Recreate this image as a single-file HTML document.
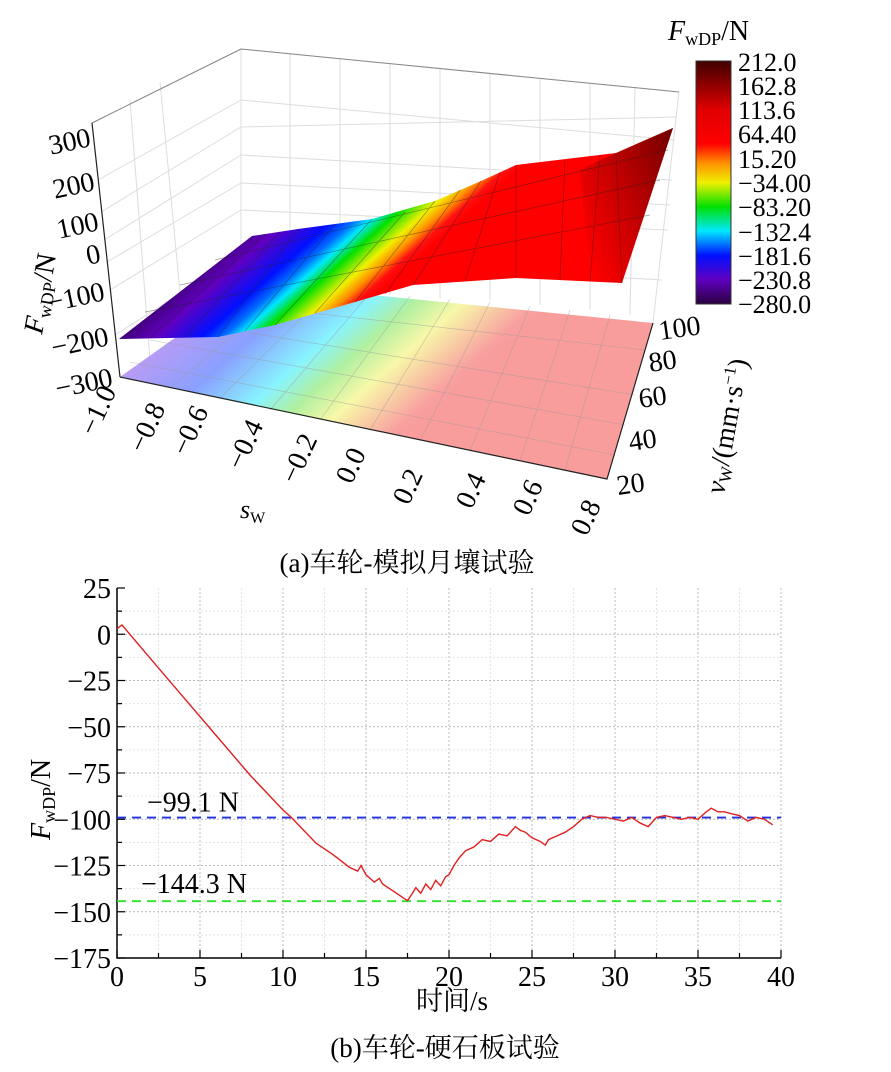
<!DOCTYPE html>
<html><head><meta charset="utf-8">
<style>
body{margin:0;background:#fff;width:891px;height:1072px;overflow:hidden;}
svg{position:absolute;left:0;top:0;}
text, tspan{font-family:"Liberation Serif","Times New Roman",Times,"DejaVu Serif","Noto Serif CJK SC",serif;}
</style></head>
<body>
<svg width="891" height="1072" viewBox="0 0 891 1072">
<defs>
<linearGradient id="surfG" gradientUnits="userSpaceOnUse" x1="219" y1="247" x2="312" y2="352">
<stop offset="0" stop-color="#3c0070"/><stop offset="0.18" stop-color="#6000c0"/><stop offset="0.4" stop-color="#0010ff"/>
<stop offset="0.5" stop-color="#0070ff"/><stop offset="0.57" stop-color="#00e8ff"/><stop offset="0.66" stop-color="#00e000"/>
<stop offset="0.79" stop-color="#f0f000"/><stop offset="0.87" stop-color="#ff9000"/><stop offset="0.94" stop-color="#ff1010"/><stop offset="1" stop-color="#ff0000"/>
</linearGradient>
<linearGradient id="floorG" gradientUnits="userSpaceOnUse" x1="215" y1="269" x2="383" y2="458">
<stop offset="0" stop-color="#c89af0"/><stop offset="0.3" stop-color="#8aa0ff"/><stop offset="0.5" stop-color="#88f4ff"/>
<stop offset="0.62" stop-color="#b0f0a0"/><stop offset="0.75" stop-color="#f8f8a8"/><stop offset="0.95" stop-color="#f8a0a0"/><stop offset="1" stop-color="#f89c9c"/>
</linearGradient>
<linearGradient id="darkG" gradientUnits="userSpaceOnUse" x1="560" y1="200" x2="680" y2="150">
<stop offset="0" stop-color="#800000" stop-opacity="0"/><stop offset="1" stop-color="#600000" stop-opacity="0.9"/>
</linearGradient>
<linearGradient id="cbarG" x1="0" y1="1" x2="0" y2="0">
<stop offset="0" stop-color="#2a0040"/><stop offset="0.1" stop-color="#6000c0"/><stop offset="0.2" stop-color="#0010ff"/>
<stop offset="0.3" stop-color="#00e8ff"/><stop offset="0.4" stop-color="#00e000"/><stop offset="0.5" stop-color="#f0f000"/>
<stop offset="0.58" stop-color="#ff9000"/><stop offset="0.66" stop-color="#ff0000"/><stop offset="0.8" stop-color="#e00000"/><stop offset="1" stop-color="#400000"/>
</linearGradient>
</defs>

<g>
<g stroke="#ddd" stroke-width="1" fill="none">
<path d="M241 49 L679 92 M241 49 L241 285 M679 92 L653 323 M241 49 L92 123 M92 123 L120 377 M120 377 L607 479 L653 323"/>
<path d="M92 123 L241 49 M98 180 L241 100 M104 240 L241 155 M110 290 L241 210 M115 335 L241 255 M101 212 L241 127 M107 262 L241 183"/>
<path d="M241 100 L675 140 M241 155 L672 180 M241 210 L668 230 M241 255 L662 280 M241 127 L677 117 M241 183 L670 205"/>
<path d="M160 82 L185 345 M130 100 L150 360 M290 54 L290 290 M340 59 L340 292 M390 64 L390 295 M440 69 L440 298 M490 74 L490 300 M540 79 L540 305 M590 84 L590 310 M635 88 L630 315"/>
</g>
<path d="M92 123 L241 49 L679 92" stroke="#888" fill="none"/>
<polygon points="120,377 607,479 653,323 252,283" fill="url(#floorG)"/>
<g stroke="#999" stroke-width="0.6" opacity="0.6" fill="none">
<path d="M170 388 L290 287 M220 398 L330 290 M270 410 L370 293 M320 420 L410 296 M370 430 L450 299 M420 441 L490 302 M470 451 L530 306 M520 461 L570 310 M565 470 L610 315"/>
<path d="M130 362 L615 455 M150 340 L625 425 M170 320 L635 395 M195 300 L645 350"/>
</g>
<polygon points="119,339 218,337 275,325 355,302 413,285 516,278 622,283 673,128 616,153 516,165 481,181 435,201 372,219 298,229 252,236" fill="url(#surfG)"/>
<polygon points="590,280 622,283 673,128 616,153 580,170" fill="url(#darkG)"/>
<g stroke="#222" stroke-width="0.7" opacity="0.45" fill="none">
<path d="M150 338 L265 234 M185 337 L280 232 M218 337 L298 229 M245 331 L335 224 M275 325 L372 219 M315 313 L405 212 M355 302 L435 201 M385 294 L460 190 M413 285 L481 181 M465 281 L500 172 M516 278 L516 165 M560 280 L565 160 M590 281 L600 155 M622 283 L616 153"/>
<path d="M145 312 L650 215 M180 285 L660 180 M215 260 L668 150"/>
</g>
<path d="M120 377 L607 479 L653 323" stroke="#222" stroke-width="1.2" fill="none"/>
<path d="M92 123 L120 377" stroke="#222" stroke-width="1.2" fill="none"/>
<g font-size="28" fill="#000" text-anchor="end">
<text x="92" y="146" transform="rotate(-12 92 146)">300</text>
<text x="96" y="190" transform="rotate(-12 96 190)">200</text>
<text x="100" y="230" transform="rotate(-12 100 230)">100</text>
<text x="102" y="262" transform="rotate(-12 102 262)">0</text>
<text x="106" y="300" transform="rotate(-12 106 300)">−100</text>
<text x="110" y="345" transform="rotate(-12 110 345)">−200</text>
<text x="114" y="386" transform="rotate(-12 114 386)">−300</text>
</g>
<text font-size="28" transform="translate(42 335) rotate(-80)"><tspan font-style="italic">F</tspan><tspan font-size="18" dy="5">wDP</tspan><tspan dy="-5">/N</tspan></text>
<g font-size="28" fill="#000" text-anchor="middle">
<text x="97" y="420" transform="rotate(-65 97 410)">−1.0</text>
<text x="146" y="437" transform="rotate(-65 146 427)">−0.8</text>
<text x="189" y="440" transform="rotate(-65 189 430)">−0.6</text>
<text x="244" y="454" transform="rotate(-65 244 444)">−0.4</text>
<text x="298" y="468" transform="rotate(-65 298 458)">−0.2</text>
<text x="350" y="475" transform="rotate(-65 350 465)">0.0</text>
<text x="407" y="496" transform="rotate(-65 407 486)">0.2</text>
<text x="470" y="500" transform="rotate(-65 470 490)">0.4</text>
<text x="527" y="507" transform="rotate(-65 527 497)">0.6</text>
<text x="585" y="527" transform="rotate(-65 585 517)">0.8</text>
</g>
<text x="240" y="518" font-size="26" font-style="italic">s<tspan font-size="16" font-style="normal" dy="5">W</tspan></text>
<g font-size="28" fill="#000">
<text x="660" y="340" transform="rotate(-8 660 340)">100</text>
<text x="650" y="372" transform="rotate(-8 650 372)">80</text>
<text x="640" y="408" transform="rotate(-8 640 408)">60</text>
<text x="630" y="451" transform="rotate(-8 630 451)">40</text>
<text x="618" y="495" transform="rotate(-8 618 495)">20</text>
</g>
<text font-size="28" transform="translate(724 495) rotate(-80)"><tspan font-style="italic">v</tspan><tspan font-size="17" dy="4">W</tspan><tspan dy="-4">/(mm·s</tspan><tspan font-size="17" dy="-10">−1</tspan><tspan dy="10">)</tspan></text>
<g>
<text x="668" y="40" font-size="28"><tspan font-style="italic">F</tspan><tspan font-size="18" dy="5">wDP</tspan><tspan dy="-5">/N</tspan></text>
<rect x="696" y="61" width="35" height="243" fill="url(#cbarG)" stroke="#333" stroke-width="1"/>
<g font-size="26">
<text x="738" y="71">212.0</text><text x="738" y="95">162.8</text><text x="738" y="119">113.6</text>
<text x="738" y="143">64.40</text><text x="738" y="168">15.20</text><text x="738" y="192">−34.00</text>
<text x="738" y="216">−83.20</text><text x="738" y="241">−132.4</text><text x="738" y="265">−181.6</text>
<text x="738" y="289">−230.8</text><text x="738" y="313">−280.0</text>
</g>
</g>
</g>
<text x="407" y="572" font-size="27" text-anchor="middle">(a)车轮-模拟月壤试验</text>

<g id="chart2"></g>
<text x="452" y="1010" font-size="27" text-anchor="middle">时间/s</text>
<text font-size="28" transform="translate(50 840) rotate(-90)"><tspan font-style="italic">F</tspan><tspan font-size="18" dy="5">wDP</tspan><tspan dy="-5">/N</tspan></text>
<text x="445" y="1057" font-size="27" text-anchor="middle">(b)车轮-硬石板试验</text>
</svg>
<script>
const xTicks=[0,5,10,15,20,25,30,35,40];
const yTicks=[25,0,-25,-50,-75,-100,-125,-150,-175];
const timeS=[0,0.3,2,4,6,8,10,10.5,12,13,14,14.5,14.7,15,15.5,15.8,16,16.5,17,17.5,17.8,18,18.3,18.6,18.9,19.2,19.5,19.8,20,20.3,20.6,21,21.5,22,22.5,23,23.5,24,24.3,24.6,25,25.5,25.8,26,26.5,27,27.5,28,28.5,29,29.5,30,30.5,31,31.5,32,32.5,33,33.5,34,34.5,35,35.5,35.8,36.2,36.6,37,37.5,38,38.5,39,39.5];
const forceN=[3,5,-13,-34,-55,-76,-95,-99,-113,-119,-126,-128,-125,-130,-134,-132,-135,-138,-141,-144,-140,-137,-140,-135,-138,-133,-136,-131,-130,-125,-121,-117,-115,-111,-112,-108,-109,-104,-106,-107,-110,-112,-114,-111,-109,-107,-104,-100,-98,-99,-99,-100,-101,-99,-102,-104,-99,-98,-99,-100,-99,-100,-96,-94,-96,-96,-97,-98,-101,-99,-100,-103];
const refLevels=[-99.1,-144.3];
const refLabels=["−99.1 N","−144.3 N"];
const refColors=["#2030e0","#30e030"];
const NS="http://www.w3.org/2000/svg";
const g=document.getElementById('chart2');
const X0=117,X1=781,Y0=958,Y1=588,xmin=0,xmax=40,ymin=-175,ymax=25;
const sx=v=>X0+(v-xmin)/(xmax-xmin)*(X1-X0);
const sy=v=>Y0-(v-ymin)/(ymax-ymin)*(Y0-Y1);
function el(t,a){const e=document.createElementNS(NS,t);for(const k in a)e.setAttribute(k,a[k]);g.appendChild(e);return e;}
for(let v=2.5;v<=40;v+=2.5){const l=el('line',{x1:sx(v),x2:sx(v),y1:Y1,y2:Y0,stroke:v%5===0?'#bbb':'#e4e4e4','stroke-dasharray':'2,2','stroke-width':1});

}
for(let v=-162.5;v<=12.5;v+=12.5){const l=el('line',{x1:X0,x2:X1,y1:sy(v),y2:sy(v),stroke:v%25===0?'#bbb':'#e4e4e4','stroke-dasharray':'2,2','stroke-width':1});

}
const ax=el('path',{d:`M${X0} ${Y1} L${X0} ${Y0} L${X1} ${Y0}`,stroke:'#000','stroke-width':1.5,fill:'none'});


for(let v=0;v<=40;v+=2.5){const t=el('line',{x1:sx(v),x2:sx(v),y1:Y0,y2:Y0-(v%5===0?8:5),stroke:'#000','stroke-width':1.2});

}
for(let v=-175;v<=25;v+=12.5){const t=el('line',{x1:X0,x2:X0+(v%25===0?8:5),y1:sy(v),y2:sy(v),stroke:'#000','stroke-width':1.2});

}
xTicks.forEach(v=>{const t=el('text',{x:sx(v),y:Y0+28,'font-size':28,'text-anchor':'middle'});t.textContent=v;

});
yTicks.forEach(v=>{const t=el('text',{x:X0-6,y:sy(v)+10,'font-size':28,'text-anchor':'end'});t.textContent=(v<0?'−'+(-v):v);

});
refLevels.forEach((v,i)=>{const l=el('line',{x1:X0,x2:X1,y1:sy(v),y2:sy(v),stroke:refColors[i],'stroke-width':1.8,'stroke-dasharray':'9,6'});


const t=el('text',{x:X0+(i?24:30),y:sy(v)-(i?8:6),'font-size':28});t.textContent=refLabels[i];

});
const p=el('polyline',{points:timeS.map((t,i)=>sx(t)+','+sy(forceN[i])).join(' '),fill:'none',stroke:'#e02020','stroke-width':1.4});


</script>
</body></html>
